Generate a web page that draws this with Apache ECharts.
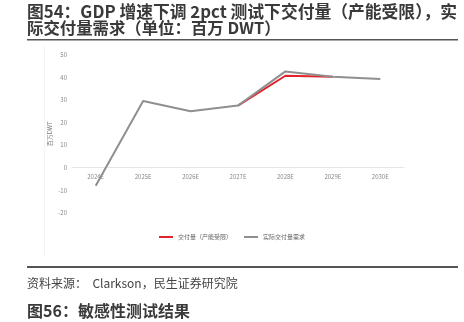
<!DOCTYPE html>
<html><head><meta charset="utf-8">
<script src="https://cdn.jsdelivr.net/npm/echarts@6/dist/echarts.min.js"></script>
<style>html,body{margin:0;padding:0;background:#fff}#c{width:464px;height:322px}</style>
</head><body><div id="c"></div>
<script>
const categories = ['2024E','2025E','2026E','2027E','2028E','2029E','2030E'];
const deliveryCapped = [null, null, null, 27.5, 40.7, 40.3, null];
const actualDemand = [-8, 29.5, 25, 27.5, 42.6, 40.3, 39.2];
const yTicks = {min: -20, max: 50, interval: 10};
const seriesNames = ['交付量（产能受限）', '实际交付量需求'];
const titleLine1 = '图54：GDP 增速下调 2pct 测试下交付量（产能受限），实';
const titleLine2 = '际交付量需求（单位：百万 DWT）';
const sourceText = '资料来源：  Clarkson，民生证券研究院';
const nextTitle = '图56：敏感性测试结果';

const FONT = '"Noto Sans CJK SC", "Noto Sans", sans-serif';
const chart = echarts.init(document.getElementById('c'), null, {renderer: 'canvas'});
chart.setOption({
  animation: false,
  textStyle: {fontFamily: FONT},
  grid: {left: 72, right: 60, top: 54.7, bottom: 109, containLabel: false},
  legend: {
    data: seriesNames, left: 'center', top: 229, itemWidth: 14, itemHeight: 2, itemGap: 12,
    icon: 'rect', textStyle: {fontSize: 6, color: '#666', fontFamily: FONT}, selectedMode: false
  },
  xAxis: {
    type: 'category', data: categories, boundaryGap: true, offset: -45.3,
    axisLine: {onZero: false, lineStyle: {color: '#e6e6e6', width: 1}},
    axisTick: {show: false},
    axisLabel: {fontSize: 6, color: '#888', margin: 6}
  },
  yAxis: {
    type: 'value', min: yTicks.min, max: yTicks.max, interval: yTicks.interval,
    name: '百万DWT', nameLocation: 'middle', nameGap: 19, nameRotate: 90, nameMoveOverlap: false,
    nameTextStyle: {fontSize: 6, color: '#777'},
    axisLine: {show: false}, axisTick: {show: false}, splitLine: {show: false},
    axisLabel: {fontSize: 6, color: '#888', margin: 5}
  },
  series: [
    {name: seriesNames[0], type: 'line', data: deliveryCapped, symbol: 'none', connectNulls: false,
     lineStyle: {color: '#e2242a', width: 2}, itemStyle: {color: '#e2242a'}},
    {name: seriesNames[1], type: 'line', data: actualDemand, symbol: 'none',
     lineStyle: {color: '#8f8f8f', width: 2}, itemStyle: {color: '#8f8f8f'}}
  ],
  graphic: [
    {type: 'text', left: 27, top: 3, style: {text: titleLine1, font: 'bold 16.8px ' + FONT, fill: '#3a3a3a'}},
    {type: 'text', left: 27, top: 20, style: {text: titleLine2, font: 'bold 16.4px ' + FONT, fill: '#3a3a3a'}},
    {type: 'rect', shape: {x: 27, y: 39, width: 431, height: 1.5}, style: {fill: '#555'}},
    {type: 'rect', shape: {x: 44, y: 46, width: 1, height: 211}, style: {fill: '#f3f3f3'}},
    {type: 'rect', shape: {x: 27, y: 266, width: 431, height: 2}, style: {fill: '#555'}},
    {type: 'text', left: 27, top: 277, style: {text: sourceText, font: '12px ' + FONT, fill: '#444'}},
    {type: 'text', left: 27, top: 303, style: {text: nextTitle, font: 'bold 16px ' + FONT, fill: '#3a3a3a'}}
  ]
});
</script></body></html>
